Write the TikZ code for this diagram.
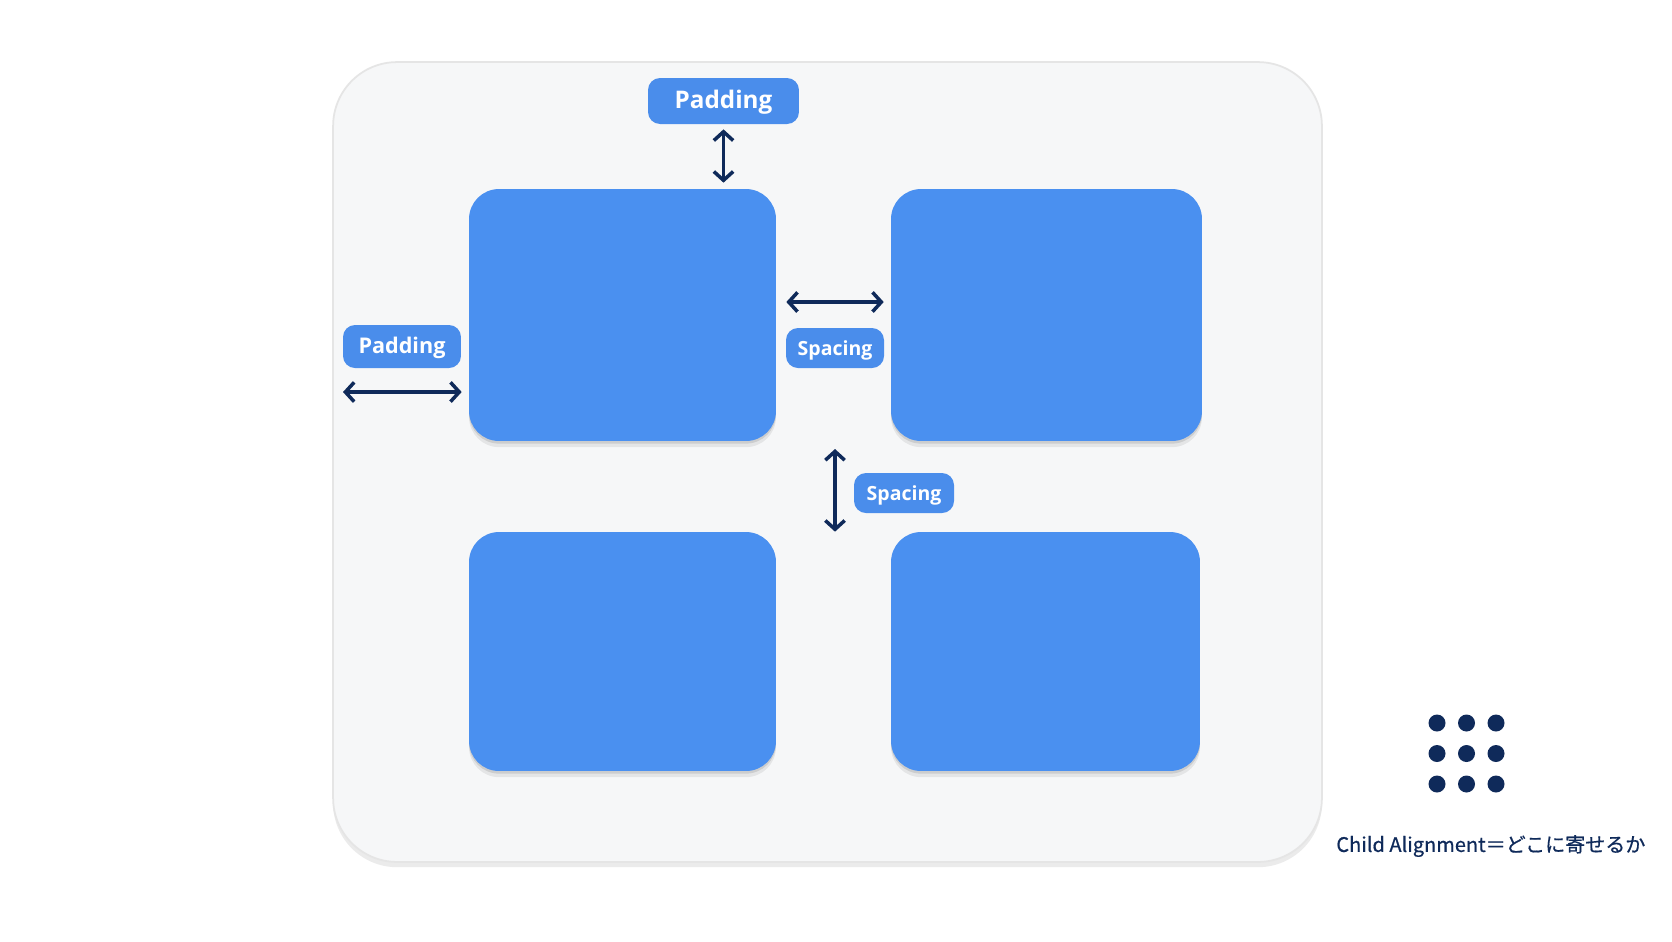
\documentclass[tikz,border=0pt]{standalone}
\usepackage{fontspec}
\setmainfont{Open Sans}
\newfontfamily\jpfont{Noto Sans CJK JP}[FakeBold=0.6]
\usetikzlibrary{arrows.meta, positioning, calc, shadows}

\definecolor{boxblue}{HTML}{4A90F0}
\definecolor{tagblue}{HTML}{4A8DEB}
\definecolor{navy}{HTML}{0F2A5A}
\definecolor{panelgray}{HTML}{F6F7F8}

\tikzset{
  child/.style={rounded corners=0.6cm, fill=boxblue, inner sep=0pt,
    drop shadow={shadow xshift=0pt, shadow yshift=-1.5pt, opacity=.10, fill=black},
    drop shadow={shadow xshift=0pt, shadow yshift=-3.5pt, opacity=.07, fill=black}},
  tag/.style={rounded corners=0.24cm, fill=tagblue, text=white, inner sep=0pt,
    font=\bfseries, text height=1em, text depth=0.2em},
  gap/.style={{Straight Barb[length=5pt,width=11pt,line width=2pt]}-{Straight Barb[length=5pt,width=11pt,line width=2pt]},
    draw=navy, line width=2pt}
}

\begin{document}
\begin{tikzpicture}[x=0.02cm, y=-0.02cm]
  \useasboundingbox[fill=white] (0,0) rectangle (1672,941);
  % container
  \node[rounded corners=1.28cm, fill=panelgray, draw=black!10, line width=1pt,
    minimum width=19.78cm, minimum height=16cm,
    drop shadow={shadow xshift=0pt, shadow yshift=-3pt, opacity=.08, fill=black}]
    (panel) at (827.5,462) {};
  % children
  \node[child, minimum width=6.14cm, minimum height=5.04cm] (tl) at (622.5,315) {};
  \node[child, minimum width=6.22cm, minimum height=5.04cm] (tr) at (1046.5,315) {};
  \node[child, minimum width=6.14cm, minimum height=4.78cm] (bl) at (622.5,651.5) {};
  \node[child, minimum width=6.18cm, minimum height=4.78cm] (br) at (1045.5,651.5) {};
  % labels
  \node[tag, minimum width=3.02cm, minimum height=0.92cm, font=\bfseries\fontsize{13.8}{15}\selectfont]
    (padtop) at (723.5,101) {Padding};
  \node[tag, minimum width=2.36cm, minimum height=0.86cm, font=\bfseries\fontsize{12.3}{14}\selectfont]
    (padleft) at (402,346.5) {Padding};
  \node[tag, minimum width=1.96cm, minimum height=0.8cm, font=\bfseries\fontsize{11.1}{13}\selectfont]
    (spcol) at (835,348) {Spacing};
  \node[tag, minimum width=2.0cm, minimum height=0.8cm, font=\bfseries\fontsize{11.1}{13}\selectfont]
    (sprow) at (904,493) {Spacing};
  % arrows
  \draw[gap, shorten <=0.1cm, shorten >=0.12cm] (padtop.south) -- (padtop.south |- tl.north);
  \coordinate (padl) at (343,392);
  \draw[gap, shorten >=0.14cm] (padl) -- (padl -| tl.west);
  \draw[gap, shorten <=0.2cm, shorten >=0.14cm] ($(tl.east)+(0,-13)$) -- ($(tr.west)+(0,-13)$);
  \coordinate (spr) at (835,449);
  \draw[gap] (spr) -- (spr |- bl.north);
  % alignment grid
  \foreach \i in {0,1,2}{
    \foreach \j in {0,1,2}{
      \fill[navy] (1437+29.5*\i,723+30.5*\j) circle (0.17cm);
    }
  }
  \node[anchor=west, text=navy, inner sep=0pt, font=\jpfont\fontsize{11.4}{14}\selectfont]
    (caption) at (1336,846) {Child Alignment＝どこに寄せるか};
\end{tikzpicture}
\end{document}
